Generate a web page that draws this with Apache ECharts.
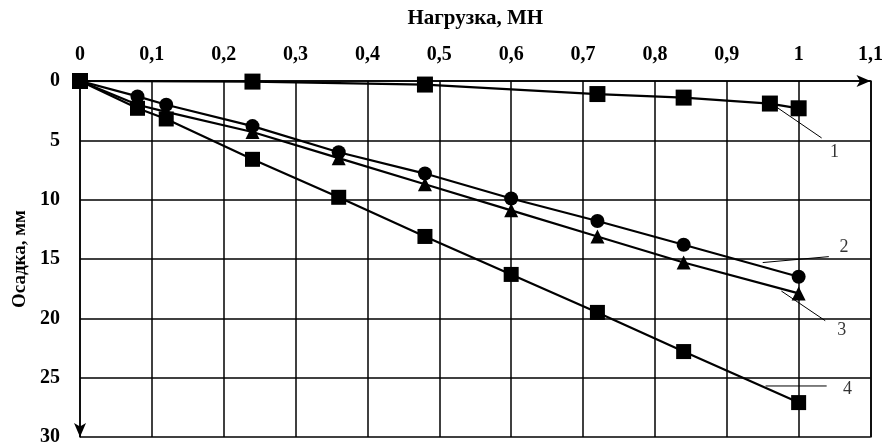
<!DOCTYPE html>
<html><head><meta charset="utf-8">
<script src="https://cdn.jsdelivr.net/npm/echarts@6/dist/echarts.min.js"></script>
<style>html,body{margin:0;padding:0;background:#fff;overflow:hidden}#c{width:886px;height:447px}</style>
</head><body><div id="c"></div>
<script>
// Load, MN (x) and settlement, mm (y)
const load1 = [0, 0.24, 0.48, 0.72, 0.84, 0.96, 1.0];
const settle1 = [0, 0.05, 0.3, 1.1, 1.4, 1.9, 2.3];
const load234 = [0, 0.08, 0.12, 0.24, 0.36, 0.48, 0.6, 0.72, 0.84, 1.0];
const settle2 = [0, 1.3, 2.0, 3.8, 6.0, 7.8, 9.9, 11.8, 13.8, 16.5];
const settle3 = [0, 2.0, 2.6, 4.3, 6.5, 8.7, 10.9, 13.1, 15.3, 17.9];
const settle4 = [0, 2.3, 3.2, 6.6, 9.8, 13.1, 16.3, 19.5, 22.8, 27.1];
// Leader lines for curve numbers: [x0, x1], [y0, y1] and label
const curveLabels = ['1', '2', '3', '4'];
const leaderX = [[0.962, 1.032], [0.95, 1.042], [0.976, 1.037], [0.954, 1.039]];
const leaderY = [[1.9, 4.8], [15.3, 14.8], [17.7, 20.2], [25.7, 25.7]];
const labelPos = [[1.05, 6.0], [1.063, 14.0], [1.06, 21.0], [1.068, 26.0]];
const xTicks = ['0','0,1','0,2','0,3','0,4','0,5','0,6','0,7','0,8','0,9','1','1,1'];

const font = 'Liberation Serif, Times New Roman, serif';
const pair = (xs, ys) => xs.map((x, i) => [x, ys[i]]);

const series = [
  {type:'line', data:pair(load1, settle1), symbol:'rect', symbolSize:16},
  {type:'line', data:pair(load234, settle2), symbol:'circle', symbolSize:14},
  {type:'line', data:pair(load234, settle3), symbol:'triangle', symbolSize:14},
  {type:'line', data:pair(load234, settle4), symbol:'rect', symbolSize:15}
].map(s => Object.assign(s, {
  lineStyle:{color:'#000', width:2.2}, itemStyle:{color:'#000'}, z:5, animation:false
}));
leaderX.forEach((xs, i) => {
  series.push({type:'line', data:pair(xs, leaderY[i]), symbol:'none',
    lineStyle:{color:'#000', width:1}, z:4, animation:false});
});
series.push({type:'scatter', data:labelPos.map((p,i)=>({value:p, name:curveLabels[i]})),
  symbolSize:0, animation:false,
  label:{show:true, position:'inside', formatter:p=>p.name, color:'#000',
    fontFamily:font, fontSize:18}});

const chart = echarts.init(document.getElementById('c'));
chart.setOption({
  animation:false,
  backgroundColor:'#fff',
  grid:{left:80, top:81, width:792, height:361},
  xAxis:{type:'value', position:'top', min:0, max:1.1, interval:0.1,
    name:'Нагрузка, МН', nameLocation:'middle', nameGap:52,
    nameTextStyle:{fontFamily:font, fontWeight:'bold', fontSize:21, color:'#000'},
    axisLine:{show:true, lineStyle:{color:'#000', width:1.5}, symbol:['none','arrow'], symbolSize:[9,14]},
    axisTick:{show:false},
    axisLabel:{margin:16, fontFamily:font, fontWeight:'bold', fontSize:20, color:'#000',
      formatter:v=>xTicks[Math.round(v*10)]},
    splitLine:{show:true, lineStyle:{color:'#000', width:1.5}}},
  yAxis:[{type:'value', inverse:true, min:0, max:30, interval:5,
    name:'Осадка, мм', nameLocation:'middle', nameGap:46, nameRotate:90,
    nameTextStyle:{fontFamily:font, fontWeight:'bold', fontSize:19, color:'#000'},
    axisLine:{show:true, lineStyle:{color:'#000', width:1.5}, symbol:['arrow','none'], symbolSize:[9,14]},
    axisTick:{show:false},
    axisLabel:{margin:20, fontFamily:font, fontWeight:'bold', fontSize:20, color:'#000'},
    splitLine:{show:true, lineStyle:{color:'#000', width:1.5}}},
   {type:'value', position:'right', inverse:true, min:0, max:30, interval:5,
    axisLine:{show:true, lineStyle:{color:'#000', width:1.5}},
    axisTick:{show:false}, axisLabel:{show:false}, splitLine:{show:false}}],
  series:series
});
</script></body></html>
